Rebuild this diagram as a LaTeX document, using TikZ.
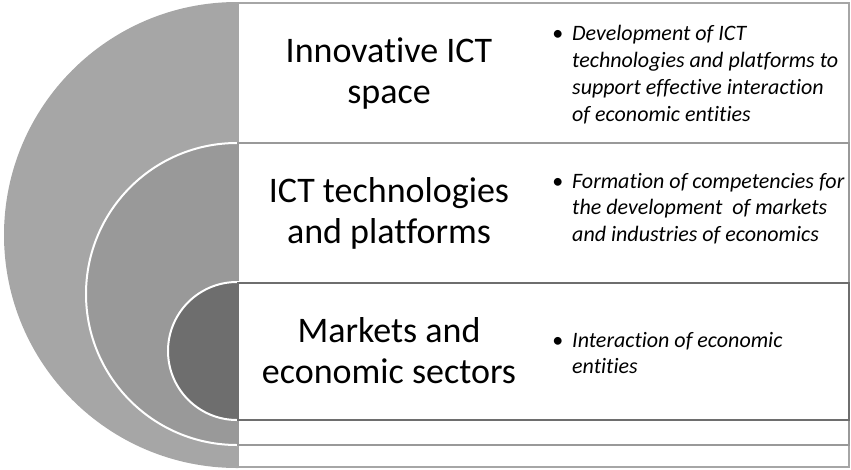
\documentclass[tikz,border=0pt]{standalone}
\usepackage{fontspec}
\setmainfont{Carlito}[Ligatures={NoCommon}]
\definecolor{cOuter}{HTML}{A6A6A6}
\definecolor{cMiddle}{HTML}{999999}
\definecolor{cInner}{HTML}{6E6E6E}
\begin{document}
\begin{tikzpicture}[x=1pt,y=-1pt,
  disc/.style={draw=white,line width=2pt},
  panel/.style={fill=white,line width=2pt},
  title/.style={anchor=base,align=center,inner sep=0pt,font=\fontsize{36}{41}\selectfont},
  bul/.style={anchor=base west,align=left,inner sep=0pt,font=\fontsize{22}{26.7}\selectfont\itshape}]
\useasboundingbox (0,0) rectangle (851,469);
% outer level
\fill[cOuter] (237,235) circle[radius=233];
\path[panel,draw=cOuter] (238,3) rectangle (849,467);
% middle level
\path[disc,fill=cMiddle] (237,294) circle[radius=151];
\path[panel,draw=cMiddle] (238,143) rectangle (849,445);
% inner level
\path[disc,fill=cInner] (237,351) circle[radius=69];
\path[panel,draw=cInner] (238,283) rectangle (849,420);
% titles (anchor base = baseline of last line)
\node[title] (t1) at (389,103) {Innovative ICT\\space};
\node[title] (t2) at (389,243) {ICT technologies\\and platforms};
\node[title] (t3) at (389,383) {Markets and\\economic sectors};
% bullet texts
\node[bul] (b1) at (572,121) {\llap{\upshape•\hspace{9pt}}Development of ICT\\technologies and platforms to\\support effective interaction\\of economic entities};
\node[bul] (b2) at (572,241.4) {\llap{\upshape•\hspace{9pt}}Formation of competencies for\\the development~ of markets\\and industries of economics};
\node[bul] (b3) at (572,373.7) {\llap{\upshape•\hspace{9pt}}Interaction of economic\\entities};
\end{tikzpicture}
\end{document}
